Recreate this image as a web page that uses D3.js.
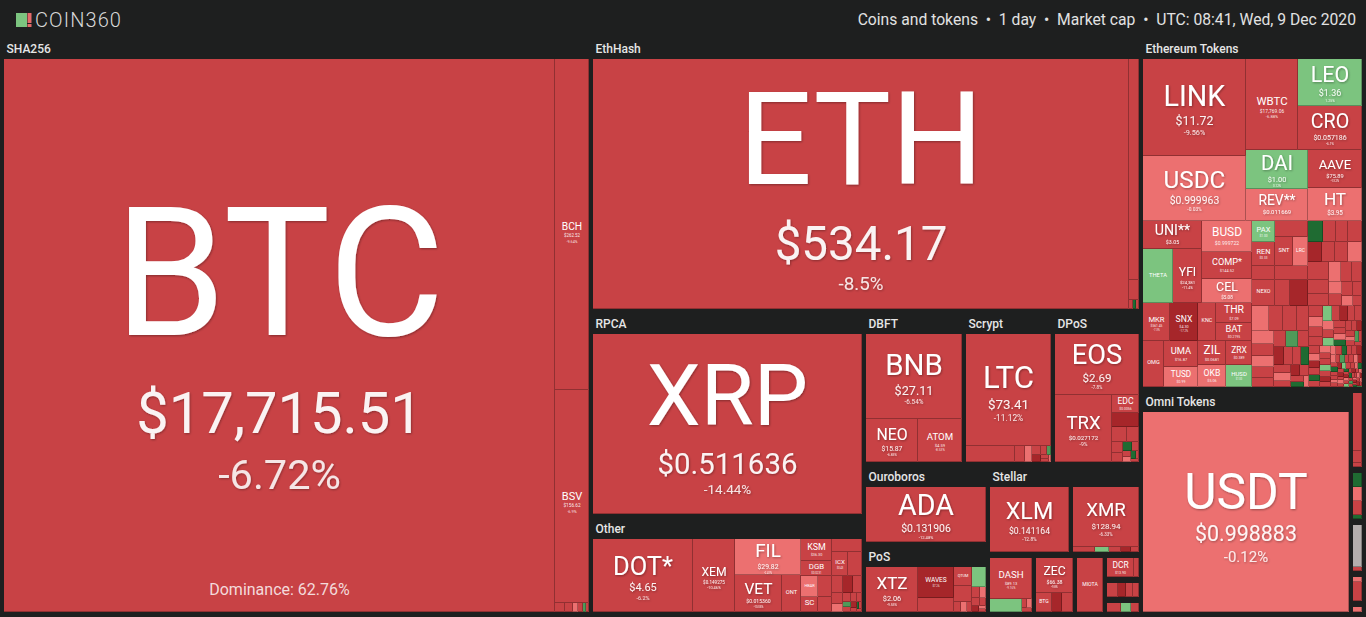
<!DOCTYPE html>
<html><head><meta charset="utf-8">
<script src="https://cdn.jsdelivr.net/npm/d3@7/dist/d3.min.js"></script>
<style>
html,body{margin:0;padding:0;background:#1e1f1f;overflow:hidden}
svg{display:block;font-family:Roboto,"Noto Sans",sans-serif}
</style></head><body>
<svg id="chart" width="1366" height="617"></svg>
<script>
// ---------- DATA (tile weights; [symbol, weight, price, 24h change %]) ----------
const headerText = "Coins and tokens  \u2022  1 day  \u2022  Market cap  \u2022  UTC: 08:41, Wed, 9 Dec 2020";
const btcDominance = "Dominance: 62.76%";

const sha256Coins = [["BTC",3036,"$17,715.51",-6.72],["BCH",112.5,"$262.52",-9.64],["BSV",72.4,"$156.62",-6.9]];
const sha256Tiny = [[0.9,-7.1],[0.7,-5.4],[0.5,-1.2],[0.4,-8.3],[0.3,4.2],[0.26,-9.0]];
const ethashCoins = [["ETH",1334.6,"$534.17",-8.5],["ETC",22,"$5.61",-9.1],["UBQ",2.0,"",-7.6]];
const ethashTiny = [[0.4,-6.0],[0.3,7.2],[0.2,-12.0]];
const rpcaCoins = [["XRP",484.2,"$0.511636",-14.44]];
const otherCoins = [["DOT*",73,"$4.65",-6.2],["XEM",30.7,"$0.149275",-10.46],["FIL",23.8,"$29.82",-2.41],["VET",17.4,"$0.015360",-10.05],["ONT",7.0,"$0.59",-12.1],["KSM",6.8,"$36.30",-11.3],["DGB",4.65,"$0.0231",-8.6],["HBAR",3.57,"$0.0352",-1.5],["SC",2.55,"$0.0035",-9.1],["NANO",2.94,"",-7.7],["XVG",2.1,"",-8.0],["ALGO",3.9,"",-9.2],["ICX",3.84,"$0.43",-10.2],["RVN",3.36,"",-6.9],["BTT",1.87,"",-8.4],["HNT",1.7,"",-18.5],["NXM",1.53,"",-7.3]];
const otherTiny = [[1.2,-7.5],[0.9,-1.6],[0.7,-9.2],[0.6,-6.1],[0.45,-11],[0.4,3.1],[0.35,-8],[0.3,-20],[0.25,-5.5],[0.2,6.3],[0.18,-7.7],[0.15,-9.9]];
const dbftCoins = [["BNB",81.6,"$27.11",-6.54],["NEO",22.4,"$15.87",-6.85],["ATOM",18.9,"$4.59",-8.53]];
const scryptCoins = [["LTC",94.1,"$73.41",-11.12],["DOGE",7.84,"",-9.7],["VTC",1.6,"",-8.8],["LCC",1.12,"",-1.2]];
const scryptTiny = [[0.8,-6.4],[0.6,-19],[0.5,-7.9],[0.35,4.5],[0.3,-8.8],[0.2,-10.5],[0.13,-2.0]];
const dposCoins = [["EOS",51.2,"$2.69",-7.8],["TRX",38.2,"$0.027172",-9],["EDC",4.86,"$0.0056",-8.5],["LSK",3.78,"",-17.4],["ARK",2.25,"",-9.6],["STEEM",1.8,"",-7.1]];
const dposTiny = [[1.3,-9.0],[1.0,-6.6],[0.8,8.4],[0.6,-11.2],[0.5,-7.4],[0.4,-1.9],[0.35,5.2],[0.25,-8.3],[0.2,-12.5]];
const ouroborosCoins = [["ADA",66.6,"$0.131906",-12.48]];
const posCoins = [["XTZ",23.5,"$2.06",-9.55],["WAVES",11.5,"$7.26",-17.1],["NXT",5.0,"",-9.4],["QTUM",3.6,"$2.51",-8.9],["STRAX",2.9,"$0.43",-9.0],["KAVA",2.8,"",1.3]];
const posTinyA = [[0.7,-7.0],[0.6,-1.5],[0.5,-10]];
const posTinyB = [[0.9,-8.2],[0.7,-1.1],[0.6,-11],[0.5,-6.8],[0.4,-20],[0.3,-1.7],[0.2,-7.7]];
const stellarCoins = [["XLM",51.5,"$0.141164",-12.8]];
const cryptonightCoins = [["XMR",40.3,"$128.94",-6.33]];
const xmrTiny = [[1.1,-8.1],[0.7,1.1],[0.6,-9.3],[0.5,-17],[0.4,-7.2]];
const x11Coins = [["DASH",17.2,"$89.13",-9.16],["PIVX",4.0,"",1.0]];
const x11Tiny = [[0.5,-7],[0.4,-1.3],[0.4,-10]];
const equihashCoins = [["ZEC",13.3,"$66.38",-9.8],["BTG",3.0,"$7.53",-9.9],["KMD",1.9,"",-17.5],["ZEN",2.1,"",-8.2]];
const tangleCoins = [["MIOTA",14.3,"$0.300342",-9.7]];
const blakeCoins = [["DCR",5.0,"$13.90",-8.6],["SIA",0.9,"",-7]];
const miscTinyA = [[1.6,-7.3],[1.2,-19],[1.0,-8.6],[0.85,-9.4]];
const miscTinyB = [[1.2,-6.6],[0.9,1.4],[0.7,-8.1]];

const ethTokenCoins = [
 ["LINK",99.8,"$11.72",-9.56],["USDC",67.6,"$0.999963",-0.03],["WBTC",46.8,"$17,769.06",-6.88],["LEO",30.1,"$1.36",1.25],["CRO",27.5,"$0.057186",-6.1],["DAI",24.2,"$1.00",0.12],["REV**",19.8,"$0.011669",-1.8],["AAVE",20.5,"$75.89",-13.2],["HT",17.8,"$3.95",-1.4],
 ["UNI**",16.5,"$3.05",-10.8],["BUSD",15.5,"$0.999722",-0.05],["THETA",16.2,"$0.608821",1.6],["YFI",15.7,"$24,381",-11.4],["COMP*",13.5,"$144.52",-9.8],["CEL",12.0,"$5.08",-1.9],
 ["MKR",10.5,"$561.45",-7.3],["SNX",10.9,"$4.30",-17.2],["KNC",7.0,"$0.82",-9.1],["THR",7.2,"$7.09",-6.5],["BAT",6.8,"$0.2195",-8.7],
 ["OMG",9.7,"$3.39",-9.6],["UMA",8.8,"$16.87",-9.1],["TUSD",6.8,"$0.99",-0.4],["ZIL",6.7,"$0.0681",-8.9],["OKB",6.2,"$5.06",-1.8],["ZRX",6.2,"$0.389",-9.4],["HUSD",5.7,"$1.00",0.2],
 ["PAX",4.8,"$1.00",0.1],["REN",5.3,"$0.33",-13.5],["BAND",3.2,"",-9.6],["NEXO",5.9,"$0.77",-8.1],
 ["ENJ",5.3,"",-8.2],["SNT",5.0,"$0.029",-9.1],["LRC",4.2,"$0.25",-2.3],["MANA",4.6,"",-8.4],["BNT",3.9,"",-9.5],["SXP",4.7,"",-18.2]
];
const ethRowA = [[3.2,9.5],[2.7,-7.4],[2.7,-8.8],[2.9,-6.9]];
const ethRowB = [[3.0,-17.5],[2.6,-7.7],[2.6,-8.0],[2.8,-2.1]];
const ethSq1 = [[3.6,-8.4],[3.0,-7.1],[2.6,-9.9],[2.4,-1.9],[2.1,-8.8],[1.9,-6.2],[1.7,-1.4],[1.6,-9.5],[1.5,-7.8],[1.3,-11.2],[1.1,-2.4],[0.9,-8.1]];
const ethSqA = [[4.0,-1.7],[3.6,-8.5],[3.3,-7.2],[3.0,-9.1],[2.8,-2.2],[2.6,-8.0],[2.4,-1.3],[2.3,-10.4],[2.1,-6.7],[2.0,-8.9],[1.9,3.8],[1.8,-9.6],[1.7,-18],[1.6,-7.5],[1.5,-8.3],[1.4,9.1],[1.3,-7.1],[1.2,-2.8],[1.1,-9.9],[1.0,-16.4],[0.9,-8.6],[0.8,-7.3],[0.7,6.4],[0.6,-1.6]];
const ethSqB = [[1.6,-8.2],[1.5,-1.5],[1.4,-9.3],[1.3,-7.0],[1.25,1.4],[1.2,-8.6],[1.1,-17],[1.05,-6.4],[1.0,-9.8],[0.95,-2.6],[0.9,-7.7],[0.85,0.9],[0.8,-8.8],[0.75,-10.2],[0.7,-1.2],[0.65,7.3],[0.6,-8.0],[0.55,-6.9],[0.5,-19.5],[0.5,-9.1],[0.45,-1.8],[0.4,-7.6],[0.4,2.5],[0.35,-8.4],[0.3,-11.7]];
const ethSqC = [
 [0.9,-8.1],[0.85,-1.4],[0.8,-17.3],[0.78,-7.6],[0.75,6.8],[0.7,-9.2],[0.68,-2.3],[0.65,-8.7],[0.62,-10.9],[0.6,1.2],
 [0.58,-7.1],[0.55,-19.4],[0.53,-8.4],[0.5,-1.1],[0.48,-9.8],[0.46,7.9],[0.45,-6.5],[0.43,-8.9],[0.42,-16.2],[0.4,-2.7],
 [0.39,-7.4],[0.38,3.3],[0.36,-9.5],[0.35,-8.2],[0.34,-1.9],[0.33,-18.6],[0.32,-7.0],[0.31,9.4],[0.3,-8.8],[0.29,-10.3],
 [0.28,-2.1],[0.27,-7.8],[0.26,-17.9],[0.25,0.8],[0.25,-9.1],[0.24,-6.6],[0.23,-1.6],[0.22,8.6],[0.22,-8.5],[0.21,-20.2],
 [0.2,-7.3],[0.2,-2.5],[0.19,-9.7],[0.18,5.9],[0.18,-8.0],[0.17,-16.8],[0.17,-1.3],[0.16,-7.7],[0.16,1.9],[0.15,-9.4],
 [0.15,-18.1],[0.14,-6.9],[0.14,-2.9],[0.13,7.2],[0.13,-8.6],[0.12,-10.6],[0.12,-1.8],[0.12,-17.4],[0.11,-7.5],[0.11,4.1],
 [0.11,-9.0],[0.1,-2.2],[0.1,-19.0],[0.1,-8.3],[0.1,6.3],[0.09,-7.9],[0.09,-1.5],[0.09,-16.0],[0.08,-9.6],[0.08,2.8]
];
const omniCoins = [["USDT",411.9,"$0.998883",-0.12]];
const omniSideA = [[4.95,-8.9],[1.0,-9.5],[0.3,-7.2]];
const omniSideB = [[1.2,8.8],[1.2,-1.6],[1.2,-8.4],[0.3,6.0]];
const omniSideC = [[3.6,null],[0.3,-8]];
const omniSideD = [[0.5,-1.9],[1.6,-8.7]];
const omniSideE = [[0.4,-2.2]];

// ---------- STRUCTURE ----------
const byName = new Map([sha256Coins,ethashCoins,rpcaCoins,otherCoins,dbftCoins,scryptCoins,dposCoins,ouroborosCoins,posCoins,stellarCoins,cryptonightCoins,x11Coins,equihashCoins,tangleCoins,blakeCoins,ethTokenCoins,omniCoins].flat().map(r=>[r[0],r]));
const c = s => { const r = byName.get(s); return {sym:r[0], w:r[1], price:r[2], chg:r[3]}; };
const T = arr => arr.map(([w,chg]) => ({sym:"", w, price:"", chg}));
const H = (...k) => ({split:"h", children:k.flat()});
const V = (...k) => ({split:"v", children:k.flat()});
const SQ = arr => ({split:"sq", children:T(arr)});
const GH = (...k) => ({split:"h", gap:4, children:k});
const GV = (...k) => ({split:"v", gap:4, children:k});
const G = (name, b) => ({group:name, split:b.split||"h", children:b.children||[b]});
const U = (name, b) => ({group:name, untitled:true, split:b.split||"h", children:b.children||[b]});

const spec = GH(
  G("SHA256", H(c("BTC"), V(c("BCH"), c("BSV"), H(T(sha256Tiny))))),
  GV(
    G("EthHash", H(c("ETH"), V(c("ETC"), c("UBQ"), H(T(ethashTiny))))),
    GH(
      GV(G("RPCA", c("XRP")),
         G("Other", H(c("DOT*"), c("XEM"), V(c("FIL"), H(c("VET"), c("ONT"))),
           V(c("KSM"), c("DGB"), H(V(c("HBAR"), c("SC")), V(c("NANO"), c("XVG")))),
           V(c("ALGO"), H(c("ICX"), c("RVN")), H(c("BTT"), c("HNT"), c("NXM")), SQ(otherTiny))))),
      GV(
        GH(G("DBFT", V(c("BNB"), H(c("NEO"), c("ATOM")))),
           G("Scrypt", V(c("LTC"), H(c("DOGE"), c("VTC"), c("LCC"), SQ(scryptTiny)))),
           G("DPoS", V(c("EOS"), H(c("TRX"), V(c("EDC"), c("LSK"), H(c("ARK"), c("STEEM")), SQ(dposTiny)))))),
        GH(
          GV(G("Ouroboros", c("ADA")),
             G("PoS", H(c("XTZ"), V(c("WAVES"), c("NXT")), V(c("QTUM"), c("STRAX"), H(T(posTinyA))), V(c("KAVA"), SQ(posTinyB))))),
          GV(
            GH(G("Stellar", c("XLM")), G("CryptoNight", V(c("XMR"), H(T(xmrTiny))))),
            GH(U("X11", V(c("DASH"), H(c("PIVX"), SQ(x11Tiny)))),
               U("Equihash", V(c("ZEC"), H(c("BTG"), c("KMD"), c("ZEN")))),
               U("Tangle", c("MIOTA")),
               GV(U("BLAKE256", H(c("DCR"), c("SIA"))), U("X16R", H(T(miscTinyA))), U("Lyra2", H(T(miscTinyB)))))))))),
  GV(
    G("Ethereum Tokens", V(
      H(V(c("LINK"), c("USDC")), V(H(c("WBTC"), V(c("LEO"), c("CRO"))), H(V(c("DAI"), c("REV**")), V(c("AAVE"), c("HT"))))),
      H(V(H(V(c("UNI**"), H(c("THETA"), c("YFI"))), V(c("BUSD"), c("COMP*"), c("CEL"))),
          H(c("MKR"), c("SNX"), c("KNC"), V(c("THR"), c("BAT"))),
          H(c("OMG"), V(c("UMA"), c("TUSD")), V(c("ZIL"), c("OKB")), V(c("ZRX"), c("HUSD")))),
        V(H(V(c("PAX"), c("REN"), c("BAND"), c("NEXO")),
            V(c("ENJ"), H(c("SNT"), c("LRC")), c("MANA"), H(c("BNT"), c("SXP"))),
            V(H(T(ethRowA)), H(T(ethRowB)), SQ(ethSq1))),
          H(SQ(ethSqA), V(SQ(ethSqB), SQ(ethSqC))))))),
    GH(G("Omni Tokens", c("USDT")),
       GV(U("TRC20", V(T(omniSideA))), U("BEP2", V(T(omniSideB))), U("NEP5", V(T(omniSideC))), U("Waves Tokens", V(T(omniSideD))), U("EOS Tokens", V(T(omniSideE))))))
);

// ---------- LAYOUT ----------
const BAND = 21, UBAND = 2;
const band = n => n.data.group != null ? (n.data.untitled ? UBAND : BAND) : 0;
const gapOf = n => n.data.gap || 0;
function oh(n) {
  if (n._oh) return n._oh;
  let r;
  if (!n.children || n.data.split === "sq") r = [0, 0];
  else {
    const ks = n.children.map(oh), g = gapOf(n), tot = n.value || 1;
    const avg = i => d3.sum(ks, (k, j) => k[i] * n.children[j].value) / tot;
    if (n.data.split === "h") r = [d3.sum(ks, k => k[0]) + g * (ks.length - 1), avg(1)];
    else r = [avg(0), d3.sum(ks, k => k[1]) + g * (ks.length - 1)];
  }
  r = [r[0], r[1] + band(n)];
  return (n._oh = r);
}
function tile(node, x0, y0, x1, y1) {
  const s = node.data.split;
  if (s === "sq") return d3.treemapSquarify(node, x0, y0, x1, y1);
  const g = gapOf(node), kids = node.children;
  if (s === "h") {
    const hc = (y1 - y0) - g;
    const fixed = d3.sum(kids, k => g + oh(k)[0]);
    const den = d3.sum(kids, k => k.value / Math.max(1, hc - oh(k)[1]));
    const kk = (x1 - x0 - fixed) / den;
    let x = x0;
    kids.forEach((k, i) => {
      const w = g + oh(k)[0] + kk * k.value / Math.max(1, hc - oh(k)[1]);
      k.x0 = x; k.x1 = i === kids.length - 1 ? x1 : x + w; k.y0 = y0; k.y1 = y1; x = k.x1;
    });
  } else {
    const wc = (x1 - x0) - g;
    const fixed = d3.sum(kids, k => g + oh(k)[1]);
    const den = d3.sum(kids, k => k.value / Math.max(1, wc - oh(k)[0]));
    const kk = (y1 - y0 - fixed) / den;
    let y = y0;
    kids.forEach((k, i) => {
      const h = g + oh(k)[1] + kk * k.value / Math.max(1, wc - oh(k)[0]);
      k.y0 = y; k.y1 = i === kids.length - 1 ? y1 : y + h; k.x0 = x0; k.x1 = x1; y = k.y1;
    });
  }
}
const root = d3.hierarchy(spec).sum(d => d.children ? 0 : d.w);
d3.treemap().size([1358, 574]).tile(tile).paddingInner(n => gapOf(n)).paddingTop(n => band(n)).round(true)(root);

// ---------- DRAW ----------
const svg = d3.select("#chart");
svg.append("defs").html('<filter id="ts" x="-10%" y="-10%" width="120%" height="140%"><feDropShadow dx="0.8" dy="1" stdDeviation="0.9" flood-color="#000" flood-opacity="0.35"/></filter>');
svg.append("rect").attr("width", 1366).attr("height", 617).attr("fill", "#1e1f1f");

// header
const hd = svg.append("g");
hd.append("rect").attr("x", 16).attr("y", 13).attr("width", 11).attr("height", 14).attr("fill", "#7cc47f");
hd.append("rect").attr("x", 27.5).attr("y", 13).attr("width", 4).attr("height", 10).attr("fill", "#e46a6a");
hd.append("rect").attr("x", 27.5).attr("y", 24).attr("width", 4).attr("height", 3).attr("fill", "#e46a6a");
hd.append("text").attr("x", 35).attr("y", 27).attr("font-size", 20).attr("font-weight", 300).attr("letter-spacing", 1.1).attr("fill", "#d8d8d8").text("COIN360");
hd.append("text").attr("x", 1356).attr("y", 25).attr("text-anchor", "end").attr("font-size", 15.7).attr("fill", "#e2e2e2").style("white-space", "pre").text(headerText);

function colorFor(v) {
  if (v == null) return "#b4aead";
  if (v >= 5) return "#1f6b32";
  if (v >= 2) return "#4f9a59";
  if (v >= 0) return "#7cc47f";
  if (v > -3) return "#ec7070";
  if (v > -16) return "#c84245";
  return "#a6262a";
}
const g = svg.append("g").attr("transform", "translate(4,38)");
const leaves = root.leaves();
const cells = g.append("g");
leaves.forEach(n => {
  const w = n.x1 - n.x0, h = n.y1 - n.y0;
  if (w <= 0 || h <= 0) return;
  const col = colorFor(n.data.chg);
  cells.append("rect").attr("x", n.x0).attr("y", n.y0).attr("width", w).attr("height", h).attr("fill", col);
  cells.append("path").attr("d", `M${n.x0},${n.y1 - 0.5}H${n.x1 - 0.5}V${n.y0}`)
    .attr("fill", "none").attr("stroke", d3.color(col).darker(0.9)).attr("stroke-width", 1);
});

const ctx = document.createElement("canvas").getContext("2d");
const em = (t, wt) => { ctx.font = `${wt} 100px Roboto`; return ctx.measureText(t).width / 100; };
const fmtChg = v => (Math.round(v * 100) / 100) + "%";
const ASC = 0.93, DESC = 0.245;

// each cell label: symbol / price / change, stacked without overlapping line boxes
const labels = g.append("g").attr("fill", "#fff").attr("text-anchor", "middle");
leaves.filter(n => n.data.price).forEach(n => {
  const d = n.data, w = n.x1 - n.x0, h = n.y1 - n.y0;
  const fs = Math.min(0.6 * w / em(d.sym, 400), 0.52 * h);
  if (fs < 3.5) return;
  const fp = Math.min(0.52 * w / em(d.price, 400), 0.19 * h, 0.43 * fs);
  const ct = fmtChg(d.chg);
  const fc = Math.min(0.85 * fp, 0.075 * h, 0.5 * w / em(ct, 400));
  const d1 = Math.max(0.24 * fs + 0.71 * fp, DESC * fs + ASC * fp + 0.5);
  const d2 = Math.max(1.35 * fc, DESC * fp + ASC * fc + 0.5);
  const blockH = 0.71 * fs + d1 + d2;
  const top = (n.y0 + n.y1) / 2 + 0.022 * h + 1 - blockH / 2;
  const sb = top + 0.71 * fs, pb = sb + d1, cb = pb + d2;
  const cx = (n.x0 + n.x1) / 2;
  const t = labels.append("text");
  if (fs >= 12) t.attr("filter", "url(#ts)");
  t.append("tspan").attr("x", cx).attr("y", sb).attr("font-size", fs).text(d.sym);
  if (fp >= 2.5) t.append("tspan").attr("x", cx).attr("y", pb).attr("font-size", fp).attr("fill-opacity", 0.93).text(d.price);
  if (fc >= 2.5) t.append("tspan").attr("x", cx).attr("y", cb).attr("font-size", fc).attr("fill-opacity", 0.85).text(ct);
  if (d.sym === "BTC") {
    labels.append("text").attr("x", cx).attr("y", n.y1 - 17).attr("font-size", 16).attr("fill-opacity", 0.82).text(btcDominance);
  }
});

// group titles
const titles = g.append("g").attr("fill", "#e6e6e6").attr("font-size", 12).attr("font-weight", 500);
root.descendants().filter(n => n.data.group != null && !n.data.untitled).forEach(n => {
  const tw = em(n.data.group, 500) * 12;
  if (tw + 6 > n.x1 - n.x0) return;
  titles.append("text").attr("x", n.x0 + 2.5).attr("y", n.y0 + 15).text(n.data.group);
});
</script></body></html>
